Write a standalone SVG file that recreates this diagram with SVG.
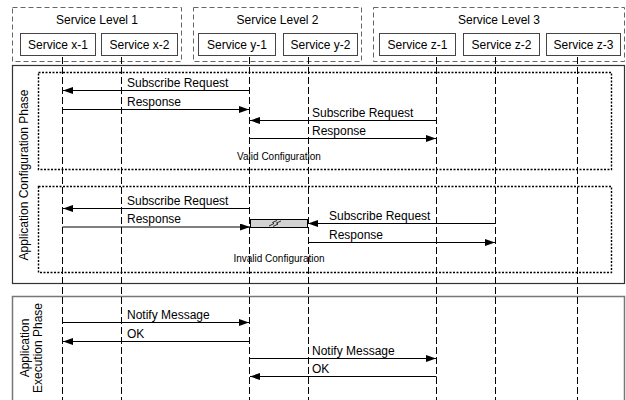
<svg xmlns="http://www.w3.org/2000/svg" width="626" height="400" viewBox="0 0 626 400">
<defs>
<marker id="ah" markerUnits="userSpaceOnUse" markerWidth="11" markerHeight="8" refX="10" refY="3.5" orient="auto">
<path d="M0,0 L10,3.5 L0,7 z" fill="#000"/>
</marker>
<style>
text{font-family:"Liberation Sans",Arial,sans-serif;fill:#000}
.t{font-size:12px}
.c{text-anchor:middle}
.sm{font-size:10px}
.lvl{fill:none;stroke:#666;stroke-dasharray:5,3;stroke-width:1}
.svc{fill:#fff;stroke:#444;stroke-width:1}
.life{stroke:#000;stroke-width:1;stroke-dasharray:7,3;fill:none}
.dot{fill:none;stroke:#000;stroke-width:1.4;stroke-dasharray:2,1.5}
.msg{stroke:#000;stroke-width:1;fill:none}
.ar{marker-end:url(#ah)}
</style>
</defs>
<rect width="626" height="400" fill="#fff"/>

<!-- phases -->
<g id="phase-config">
<rect x="12.5" y="65.5" width="612" height="218" fill="none" stroke="#333" stroke-width="1.2"/>
<text class="t c" transform="translate(28,175) rotate(-90)">Application Configuration Phase</text>
</g>
<g id="phase-exec">
<rect x="12.5" y="296.5" width="612" height="110" fill="none" stroke="#777" stroke-width="1.5"/>
<text class="t c" transform="translate(29,348) rotate(-90)">Application</text>
<text class="t c" transform="translate(42,348) rotate(-90)">Execution Phase</text>
</g>
<g id="valid-config">
<rect class="dot" x="38.5" y="72.5" width="573" height="97"/>
<text class="sm c" x="279" y="160">Valid Configuration</text>
</g>
<g id="invalid-config">
<rect class="dot" x="38.5" y="186.5" width="573" height="86"/>
<text class="sm c" x="279" y="262">Invalid Configuration</text>
</g>

<!-- service levels -->
<g id="level1">
<rect class="lvl" x="12.5" y="7.5" width="169" height="54"/>
<text class="t c" x="97" y="24">Service Level 1</text>
</g>
<g id="level2">
<rect class="lvl" x="193.5" y="7.5" width="168" height="54"/>
<text class="t c" x="277.5" y="24">Service Level 2</text>
</g>
<g id="level3">
<rect class="lvl" x="373.5" y="7.5" width="251" height="54"/>
<text class="t c" x="499" y="24">Service Level 3</text>
</g>

<!-- lifelines -->
<g id="lifelines">
<line class="life" x1="62.5" y1="57" x2="62.5" y2="400"/>
<line class="life" x1="121.5" y1="57" x2="121.5" y2="400"/>
<line class="life" x1="249.5" y1="57" x2="249.5" y2="400"/>
<line class="life" x1="308.5" y1="57" x2="308.5" y2="400"/>
<line class="life" x1="436.5" y1="57" x2="436.5" y2="400"/>
<line class="life" x1="495.5" y1="57" x2="495.5" y2="400"/>
<line class="life" x1="577.5" y1="57" x2="577.5" y2="400"/>
</g>

<g id="svc-x1"><rect class="svc" x="20.5" y="33.5" width="75" height="22"/><text class="t c" x="58" y="49">Service x-1</text></g>
<g id="svc-x2"><rect class="svc" x="101.5" y="33.5" width="76" height="22"/><text class="t c" x="139.5" y="49">Service x-2</text></g>
<g id="svc-y1"><rect class="svc" x="198.5" y="33.5" width="77" height="22"/><text class="t c" x="237" y="49">Service y-1</text></g>
<g id="svc-y2"><rect class="svc" x="283.5" y="33.5" width="74" height="22"/><text class="t c" x="320.5" y="49">Service y-2</text></g>
<g id="svc-z1"><rect class="svc" x="379.5" y="33.5" width="76" height="22"/><text class="t c" x="417.5" y="49">Service z-1</text></g>
<g id="svc-z2"><rect class="svc" x="463.5" y="33.5" width="76" height="22"/><text class="t c" x="501.5" y="49">Service z-2</text></g>
<g id="svc-z3"><rect class="svc" x="546.5" y="33.5" width="74" height="22"/><text class="t c" x="583.5" y="49">Service z-3</text></g>

<!-- broken configuration -->
<g id="broken">
<rect x="250.5" y="219.5" width="57" height="8" fill="#d3d3d3" stroke="#000" stroke-width="1"/>
<path d="M269,226 L274,223.5 L272.5,222.5 L277,220.5 M273,226.5 L278,224 L276.5,223 L281,221" fill="none" stroke="#000" stroke-width="0.8"/>
</g>

<!-- connectors -->
<g id="connectors">
<line class="msg ar" x1="249.5" y1="90.5" x2="63" y2="90.5"/>
<text class="t" x="127" y="86.5">Subscribe Request</text>
<line class="msg ar" x1="62.5" y1="109.5" x2="249" y2="109.5"/>
<text class="t" x="127" y="105.5">Response</text>
<line class="msg ar" x1="436.5" y1="120.5" x2="250" y2="120.5"/>
<text class="t" x="312" y="116.5">Subscribe Request</text>
<line class="msg ar" x1="249.5" y1="138.5" x2="436" y2="138.5"/>
<text class="t" x="312" y="134.5">Response</text>

<line class="msg ar" x1="249.5" y1="208.5" x2="63" y2="208.5"/>
<text class="t" x="127" y="204.5">Subscribe Request</text>
<line class="msg ar" x1="62.5" y1="227" x2="250" y2="227"/>
<text class="t" x="127" y="223">Response</text>
<line class="msg ar" x1="495.5" y1="223.5" x2="308" y2="223.5"/>
<text class="t" x="329" y="219.5">Subscribe Request</text>
<line class="msg ar" x1="308.5" y1="242.5" x2="495" y2="242.5"/>
<text class="t" x="329" y="238.5">Response</text>

<line class="msg ar" x1="62.5" y1="322.5" x2="249" y2="322.5"/>
<text class="t" x="127" y="318.5">Notify Message</text>
<line class="msg ar" x1="249.5" y1="341.5" x2="63" y2="341.5"/>
<text class="t" x="127" y="337.5">OK</text>
<line class="msg ar" x1="249.5" y1="358.5" x2="436" y2="358.5"/>
<text class="t" x="312" y="354.5">Notify Message</text>
<line class="msg ar" x1="436.5" y1="376.5" x2="250" y2="376.5"/>
<text class="t" x="312" y="372.5">OK</text>
</g>
</svg>
